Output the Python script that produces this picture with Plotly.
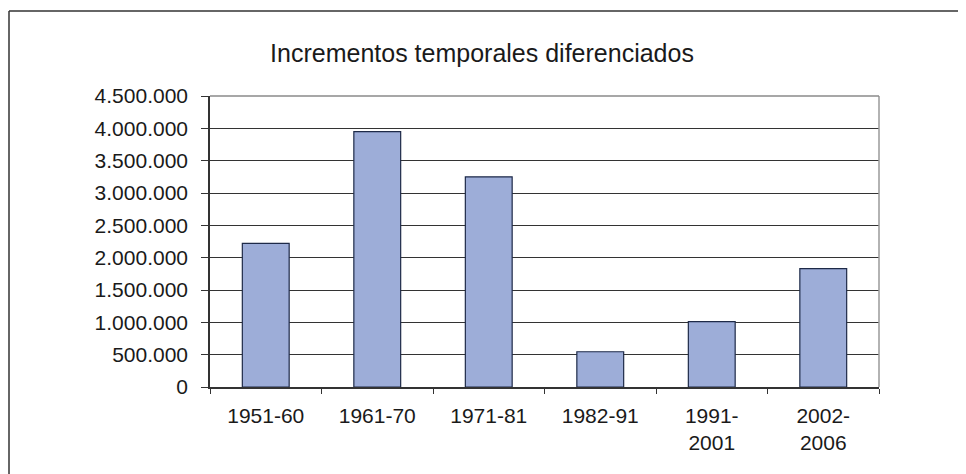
import plotly.graph_objects as go

categories = ["1951-60", "1961-70", "1971-81", "1982-91", "1991-<br>2001", "2002-<br>2006"]
values = [2220000, 3950000, 3250000, 545000, 1010000, 1830000]
y_ticks = [0, 500000, 1000000, 1500000, 2000000, 2500000, 3000000, 3500000, 4000000, 4500000]
title_text = "Incrementos temporales diferenciados"

# page has an 8px body margin; figure coordinates are page coords minus 8
OFF = 8
W, H = 966 - OFF, 474 - OFF
L, T = 210 - OFF, 96 - OFF
R = W - (879 - OFF)
B = H - (387 - OFF)
pw, ph = W - L - R, H - T - B

fig = go.Figure(go.Bar(
    x=categories, y=values,
    marker=dict(color="#9DADD8", line=dict(color="#1E2A48", width=1.2)),
))

FONT = "Liberation Sans, Arial, sans-serif"

fig.update_layout(
    width=W, height=H,
    margin=dict(l=L, r=R, t=T, b=B),
    paper_bgcolor="white", plot_bgcolor="white",
    separators=",.",
    bargap=0.58,
    showlegend=False,
    font=dict(family=FONT, color="#1a1a1a", size=21),
    title=dict(text=title_text, x=(482 - OFF) / W, xanchor="center", y=1 - (53 - OFF) / H, yanchor="middle",
               font=dict(family=FONT, size=25, color="#1a1a1a")),
)
fig.update_yaxes(
    range=[0, 4500000], tickvals=y_ticks, tickformat=",.0f",
    showgrid=True, gridcolor="#333333", gridwidth=1.2,
    showline=True, linecolor="#333333", linewidth=1.5,
    ticks="outside", ticklen=7, tickcolor="#333333",
    ticklabelstandoff=9,
    tickfont=dict(size=21, family=FONT, color="#1a1a1a"),
    zeroline=False,
)
fig.update_xaxes(
    type="category", tickson="boundaries",
    showgrid=False,
    showline=True, linecolor="#333333", linewidth=1.5,
    ticks="outside", ticklen=5, tickcolor="#333333",
    ticklabelstandoff=9,
    tickfont=dict(size=21, family=FONT, color="#1a1a1a"),
)

# plot area border (top / right) in grey
fig.add_shape(type="line", xref="paper", yref="paper", x0=1, x1=1, y0=0, y1=1,
              line=dict(color="#9a9a9a", width=1.5))
fig.add_shape(type="line", xref="paper", yref="paper", x0=0, x1=1, y0=1, y1=1,
              line=dict(color="#8a8a8a", width=1.5))

# outer chart frame: left and top edges only (it runs past the right and bottom edges)
fig.add_shape(type="line", xref="paper", yref="paper",
              x0=(1 - L) / pw, x1=(1 - L) / pw,
              y0=-(B + 20) / ph, y1=(H - B - (11 - OFF)) / ph,
              line=dict(color="#333333", width=1.5))
fig.add_shape(type="line", xref="paper", yref="paper",
              x0=(1 - L) / pw, x1=(W + 30 - L) / pw,
              y0=(H - B - (11 - OFF)) / ph, y1=(H - B - (11 - OFF)) / ph,
              line=dict(color="#333333", width=1.5))

fig.write_html("out.html")
